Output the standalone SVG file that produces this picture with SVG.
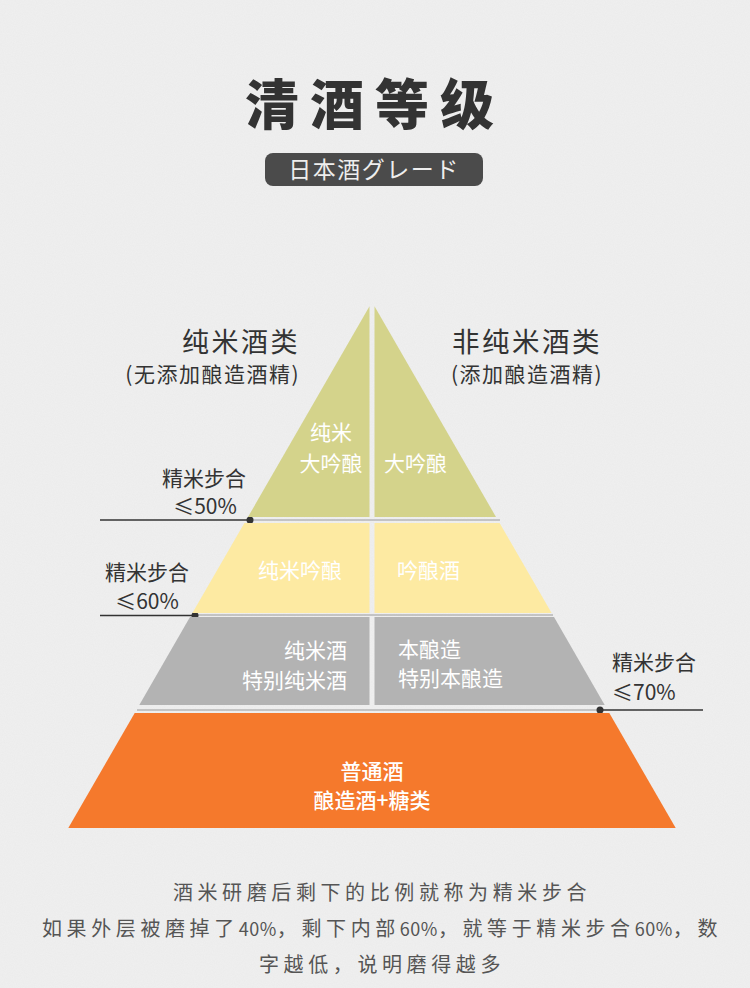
<svg xmlns="http://www.w3.org/2000/svg" width="750" height="988" viewBox="0 0 750 988">
<defs>
<filter id="grain" x="0" y="0" width="100%" height="100%">
<feTurbulence type="fractalNoise" baseFrequency="0.9" numOctaves="2" seed="3" result="n"/>
<feColorMatrix in="n" type="matrix" values="0 0 0 0 0.5  0 0 0 0 0.5  0 0 0 0 0.5  0 0 0 0.10 0"/>
</filter>
</defs>
<style>
.cjk{font-family:"Noto Sans CJK SC","Noto Sans",sans-serif}
.dark{fill:#333}
.tier{fill:#fff;font-size:21px}
.pct{fill:#333;font-size:21px}
.note{fill:#555;font-size:20px;letter-spacing:4.6px}
.num{font-size:18px;letter-spacing:0.5px}
.lnd{stroke:#333;stroke-width:1.3}
.lng{stroke:#9a9a9a;stroke-width:1}
</style>
<rect width="750" height="988" fill="#f0f0f0"/>
<rect width="750" height="988" filter="url(#grain)"/>
<g id="title">
<text class="cjk" x="375" y="125" text-anchor="middle" font-size="54" font-weight="900" fill="#333" letter-spacing="11">清酒等级</text>
</g>
<g id="subtitle">
<rect x="265" y="153" width="218" height="33" rx="8" fill="#4b4b4b"/>
<text class="cjk" x="374" y="178" text-anchor="middle" font-size="23" fill="#eee" letter-spacing="1.5">日本酒グレード</text>
</g>
<g id="header-left">
<text class="cjk dark" x="300" y="352" text-anchor="end" font-size="27" letter-spacing="2.5">纯米酒类</text>
<text class="cjk dark" x="300" y="382" text-anchor="end" font-size="21" letter-spacing="1.5">(无添加酿造酒精)</text>
</g>
<g id="header-right">
<text class="cjk dark" x="527" y="352" text-anchor="middle" font-size="27.5" letter-spacing="2.5">非纯米酒类</text>
<text class="cjk dark" x="527" y="382" text-anchor="middle" font-size="21" letter-spacing="1.5">(添加酿造酒精)</text>
</g>
<g id="connectors">
<line class="lng" x1="250" y1="520" x2="500" y2="520"/>
<line class="lnd" x1="100" y1="520" x2="250" y2="520"/>
<circle cx="250" cy="520" r="3.5" fill="#333"/>
<line class="lng" x1="195" y1="615" x2="553" y2="615"/>
<line class="lnd" x1="100" y1="615.5" x2="195" y2="615.5"/>
<circle cx="195" cy="615.5" r="3.5" fill="#333"/>
<line class="lng" x1="137" y1="710" x2="600" y2="710"/>
<line class="lnd" x1="600" y1="710" x2="703" y2="710"/>
<circle cx="600" cy="710" r="3.5" fill="#333"/>
</g>
<g id="tier1-left">
<polygon points="369.5,306.3 369.5,517 248,517" fill="#d4d38b"/>
<text class="cjk tier" x="331" y="440" text-anchor="middle">纯米</text>
<text class="cjk tier" x="331" y="471" text-anchor="middle">大吟酿</text>
</g>
<g id="tier1-right">
<polygon points="374.5,306.3 496,517 374.5,517" fill="#d4d38b"/>
<text class="cjk tier" x="384" y="471">大吟酿</text>
</g>
<g id="tier2-left">
<polygon points="244.4,523 369.5,523 369.5,613 192.4,613" fill="#fdeaa2"/>
<text class="cjk tier" x="342" y="578" text-anchor="end">纯米吟酿</text>
</g>
<g id="tier2-right">
<polygon points="374.5,523 499.6,523 551.6,613 374.5,613" fill="#fdeaa2"/>
<text class="cjk tier" x="397" y="578">吟酿酒</text>
</g>
<g id="tier3-left">
<polygon points="190,617 369.5,617 369.5,705 139.3,705" fill="#b3b3b3"/>
<text class="cjk tier" x="347" y="658" text-anchor="end">纯米酒</text>
<text class="cjk tier" x="347" y="688" text-anchor="end">特别纯米酒</text>
</g>
<g id="tier3-right">
<polygon points="374.5,617 554,617 604.7,705 374.5,705" fill="#b3b3b3"/>
<text class="cjk tier" x="398" y="657">本酿造</text>
<text class="cjk tier" x="398" y="686">特别本酿造</text>
</g>
<g id="tier4">
<polygon points="134.7,713 609.3,713 675.7,828 68.3,828" fill="#f5792c"/>
<text class="cjk tier" x="372" y="779" text-anchor="middle" font-size="19" font-weight="500">普通酒</text>
<text class="cjk tier" x="372" y="807.5" text-anchor="middle" font-size="19" font-weight="500">酿造酒+糖类</text>
</g>
<g id="ratio-50">
<text class="cjk pct" x="204" y="486" text-anchor="middle">精米步合</text>
<text class="cjk pct" x="205" y="514" text-anchor="middle">≤50%</text>
</g>
<g id="ratio-60">
<text class="cjk pct" x="147" y="580" text-anchor="middle">精米步合</text>
<text class="cjk pct" x="147" y="609" text-anchor="middle">≤60%</text>
</g>
<g id="ratio-70">
<text class="cjk pct" x="612" y="670" font-size="20">精米步合</text>
<text class="cjk pct" x="612" y="699.5" font-size="20">≤70%</text>
</g>
<g id="note">
<text class="cjk note" x="382" y="900" text-anchor="middle">酒米研磨后剩下的比例就称为精米步合</text>
<text class="cjk note" x="382" y="936" text-anchor="middle">如果外层被磨掉了<tspan class="num">40%</tspan>，剩下内部<tspan class="num">60%</tspan>，就等于精米步合<tspan class="num">60%</tspan>，数</text>
<text class="cjk note" x="382" y="972" text-anchor="middle">字越低，说明磨得越多</text>
</g>
</svg>
